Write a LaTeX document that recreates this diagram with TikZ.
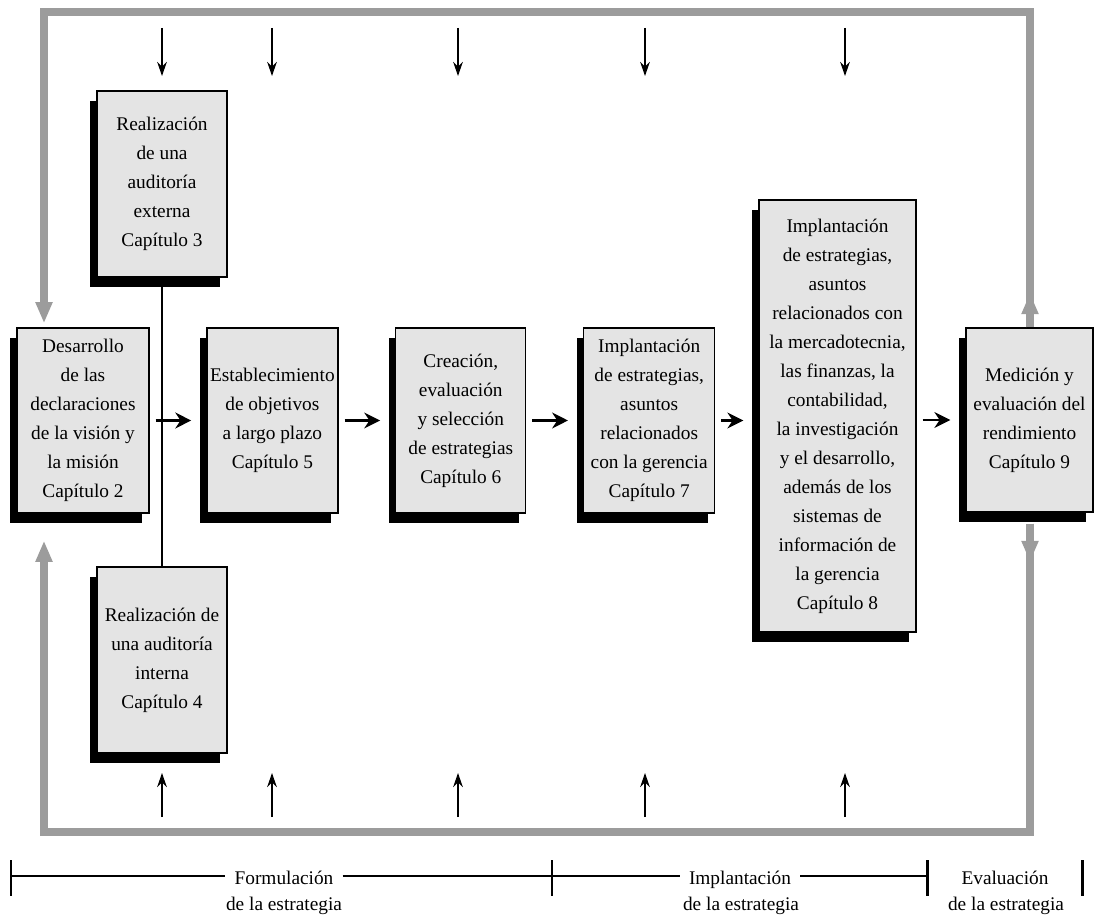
\documentclass[tikz,border=0pt]{standalone}
\usepackage{fontspec}
\setmainfont{Liberation Serif}
\usetikzlibrary{positioning, shadows, arrows.meta}

\definecolor{cajagris}{HTML}{E4E4E4}
\definecolor{marcogris}{HTML}{9C9C9C}
\newlength\pxu
\setlength\pxu{0.02cm}

\tikzset{
    caja/.style={draw=black, line width=0.8pt, fill=cajagris, align=center, inner sep=1pt,
        font=\fontsize{11}{16.5}\selectfont,
        drop shadow={shadow xshift=-7\pxu, shadow yshift=-10\pxu, fill=black, opacity=1}},
    paso/.style={line width=1.6pt, -{Stealth[length=9pt,width=9pt]}, shorten <=6\pxu, shorten >=15\pxu},
    entrada/.style={line width=1pt, -{Stealth[length=8pt,width=5.5pt]}},
    retro/.style={draw=marcogris, line width=4.5pt},
    punta/.style={retro, -{Triangle[length=12pt,width=9pt]}},
    eje/.style={line width=1.7pt},
    etapa/.style={font=\fontsize{11}{14}\selectfont, inner xsep=5pt, inner ysep=0pt, anchor=base}
}

\begin{document}
\begin{tikzpicture}[x=0.02cm, y=-0.02cm, node distance=1.13cm]
    \useasboundingbox (0,0) rectangle (1096,918);

        % Nodes
        \node[caja, minimum width=130\pxu, minimum height=186\pxu] (ext) at (162,184)
            {Realización\\de una\\auditoría\\externa\\Capítulo 3};
        \node[caja, minimum width=132\pxu, minimum height=185\pxu] (des) at (83,420.5)
            {Desarrollo\\de las\\declaraciones\\de la visión y\\la misión\\Capítulo 2};
        \node[caja, minimum width=131\pxu, minimum height=185\pxu] (est) [right=of des]
            {Establecimiento\\de objetivos\\a largo plazo\\Capítulo 5};
        \node[caja, minimum width=130\pxu, minimum height=185\pxu] (cre) [right=of est]
            {Creación,\\evaluación\\y selección\\de estrategias\\Capítulo 6};
        \node[caja, minimum width=131\pxu, minimum height=185\pxu] (imp7) [right=of cre]
            {Implantación\\de estrategias,\\asuntos\\relacionados\\con la gerencia\\Capítulo 7};
        \node[caja, minimum width=157\pxu, minimum height=432\pxu] (imp8) at (837.5,416)
            {Implantación\\de estrategias,\\asuntos\\relacionados con\\la mercadotecnia,\\las finanzas, la\\contabilidad,\\la investigación\\y el desarrollo,\\además de los\\sistemas de\\información de\\la gerencia\\Capítulo 8};
        \node[caja, minimum width=127\pxu, minimum height=184\pxu] (med) at (1029.5,420)
            {Medición y\\evaluación del\\rendimiento\\Capítulo 9};
        \node[caja, minimum width=130\pxu, minimum height=186\pxu] (int) at (162,660)
            {Realización de\\una auditoría\\interna\\Capítulo 4};

        % Frame corners
        \coordinate (esqNO) at (44,12);
        \coordinate (esqNE) at (1030,12);
        \coordinate (esqSO) at (44,832);
        \coordinate (esqSE) at (1030,832);

        % Feedback frame
        \draw[punta, shorten >=4\pxu] (esqNE |- med.north) -- (esqNE) -- (esqNO) -- (esqNO |- des.north);
        \draw[punta, shorten <=11\pxu, shorten >=27\pxu] (esqSE |- med.south) -- (esqSE) -- (esqSO) -- (esqSO |- des.south);
        \coordinate (subeNE) at (1030,293);
        \coordinate (bajaSE) at (1030,562);
        \draw[punta] (esqNE |- med.north) -- (subeNE);
        \draw[punta, shorten <=11\pxu] (esqSE |- med.south) -- (bajaSE);

        % Arrows
        \draw[line width=1pt] (ext.south) -- (int.north);
        \draw[paso] (des.east) -- (est.west);
        \draw[paso] (est.east) -- (cre.west);
        \draw[paso] (cre.east) -- (imp7.west);
        \draw[paso] (imp7.east) -- (imp7.east -| imp8.west);
        \draw[paso] (imp8.east |- med.west) -- (med.west);

        % Inputs from above and below
        \foreach \x [count=\i] in {162,272,458,645,845} {
            \coordinate (arribaA\i) at (\x,28);
            \coordinate (arribaB\i) at (\x,76);
            \coordinate (abajoA\i) at (\x,817);
            \coordinate (abajoB\i) at (\x,773);
            \draw[entrada] (arribaA\i) -- (arribaB\i);
            \draw[entrada] (abajoA\i) -- (abajoB\i);
        }

        % Stages
        \coordinate (t0) at (11,876);
        \coordinate (t1) at (552,876);
        \coordinate (t2) at (927,876);
        \coordinate (t3) at (1082,876);
        \foreach \t in {t0,t1,t2,t3}
            \draw[eje] ([yshift=16\pxu]\t) -- ([yshift=-20\pxu]\t);

        \node[etapa] (form) at (284,884) {Formulación};
        \node[etapa] (form2) at (284,910) {de la estrategia};
        \node[etapa] (impl) at (740,884) {Implantación};
        \node[etapa] (impl2) at (741,910) {de la estrategia};
        \node[etapa] (eval) at (1005,884) {Evaluación};
        \node[etapa] (eval2) at (1006,910) {de la estrategia};

        \draw[eje] (t0) -- (t0 -| form.west);
        \draw[eje] (form.east |- t1) -- (t1);
        \draw[eje] (t1) -- (t1 -| impl.west);
        \draw[eje] (impl.east |- t2) -- (t2);

\end{tikzpicture}
\end{document}
